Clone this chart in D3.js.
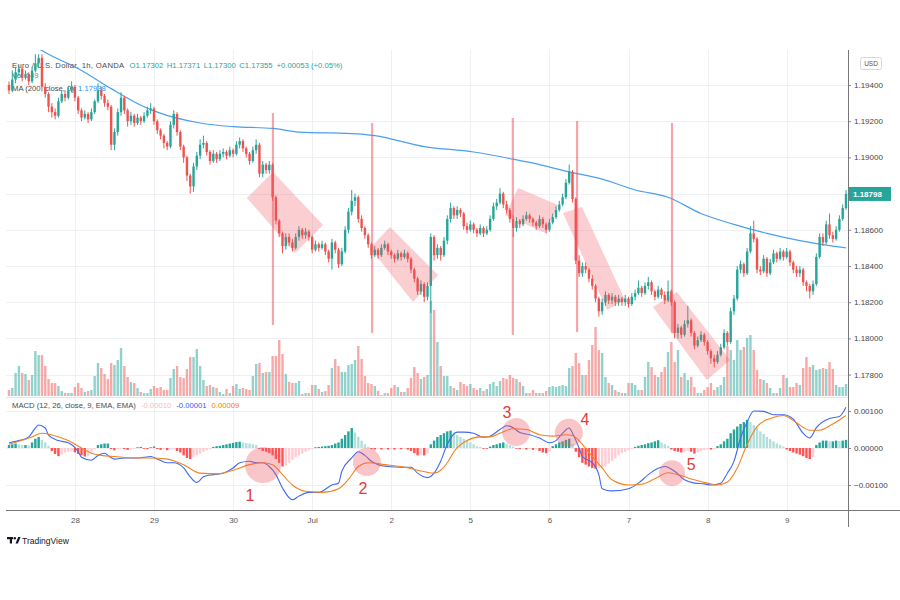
<!DOCTYPE html>
<html><head><meta charset="utf-8">
<script src="https://cdn.jsdelivr.net/npm/d3@7"></script>
<style>body{margin:0;background:#fff}svg{display:block;font-family:"Liberation Sans",Arial,sans-serif}</style>
</head><body><svg id="c" width="900" height="600"></svg>
<script>
// ---------- DATA ----------
const firstOpen = 1.1940;
const close = [
1.1937,1.1943,1.1947,1.1949,1.1944,1.1946,1.1942,1.1948,1.1952,1.1955,
1.1939,1.1935,1.1928,1.1925,1.1923,1.1931,1.1935,1.1933,1.1937,1.1939,
1.1933,1.1926,1.1922,1.1924,1.1921,1.1925,1.1931,1.1937,1.1934,1.1930,
1.1928,1.1907,1.1914,1.1925,1.1933,1.1926,1.1920,1.1923,1.1919,1.1922,
1.1920,1.1923,1.1926,1.1927,1.1920,1.1915,1.1912,1.1908,1.1906,1.1918,
1.1924,1.1914,1.1906,1.1900,1.1890,1.1884,1.1895,1.1901,1.1907,1.1908,
1.1903,1.1898,1.1902,1.1899,1.1902,1.1903,1.1901,1.1904,1.1902,1.1907,
1.1909,1.1905,1.1902,1.1898,1.1904,1.1907,1.1891,1.1896,1.1893,1.1896,
1.1878,1.1865,1.1858,1.1851,1.1856,1.1853,1.1850,1.1856,1.1860,1.1857,
1.1859,1.1856,1.1849,1.1852,1.1850,1.1852,1.1848,1.1844,1.1853,1.1849,
1.1841,1.1848,1.1860,1.1870,1.1876,1.1878,1.1866,1.1861,1.1857,1.1852,
1.1846,1.1849,1.1846,1.1850,1.1852,1.1848,1.1846,1.1844,1.1847,1.1845,
1.1847,1.1844,1.1838,1.1833,1.1826,1.1830,1.1823,1.1829,1.1856,1.1846,
1.1850,1.1846,1.1854,1.1866,1.1872,1.1868,1.1871,1.1869,1.1862,1.1860,
1.1863,1.1860,1.1858,1.1861,1.1858,1.1860,1.1866,1.1873,1.1875,1.1880,
1.1874,1.1871,1.1866,1.1861,1.1865,1.1863,1.1866,1.1868,1.1866,1.1864,
1.1862,1.1866,1.1863,1.1860,1.1864,1.1867,1.1871,1.1874,1.1878,1.1886,
1.1892,1.1877,1.1843,1.1836,1.1840,1.1838,1.1833,1.1829,1.1822,1.1815,
1.1820,1.1824,1.1821,1.1823,1.1820,1.1822,1.1820,1.1822,1.1819,1.1823,
1.1825,1.1828,1.1825,1.1829,1.1831,1.1826,1.1823,1.1827,1.1824,1.1821,
1.1826,1.1820,1.1803,1.1806,1.1802,1.1808,1.1810,1.1803,1.1796,1.1799,
1.1802,1.1798,1.1793,1.1789,1.1787,1.1791,1.1795,1.1803,1.1798,1.1815,
1.1822,1.1838,1.1841,1.1836,1.1848,1.1858,1.1855,1.1838,1.1837,1.1844,
1.1836,1.1842,1.1847,1.1844,1.1848,1.1845,1.1848,1.1842,1.1838,1.1836,
1.1838,1.1831,1.1829,1.1826,1.1830,1.1845,1.1856,1.1853,1.1863,1.1857,
1.1855,1.1860,1.1866,1.1872,1.18798];
const high = [
1.1942,1.1948,1.1950,1.1951,1.1950,1.1948,1.1947,1.1950,1.1957,1.1957,
1.1957,1.1941,1.1936,1.1930,1.1927,1.1933,1.1937,1.1937,1.1939,1.1942,
1.1940,1.1934,1.1927,1.1926,1.1925,1.1927,1.1932,1.1941,1.1939,1.1935,
1.1932,1.1929,1.1916,1.1927,1.1936,1.1934,1.1927,1.1925,1.1924,1.1924,
1.1923,1.1925,1.1928,1.1930,1.1928,1.1921,1.1916,1.1913,1.1909,1.1920,
1.1926,1.1925,1.1915,1.1907,1.1901,1.1891,1.1897,1.1903,1.1910,1.1912,
1.1909,1.1904,1.1904,1.1903,1.1904,1.1905,1.1904,1.1906,1.1905,1.1909,
1.1911,1.1910,1.1906,1.1903,1.1906,1.1910,1.1908,1.1898,1.1897,1.1898,
1.1897,1.1879,1.1866,1.1859,1.1858,1.1858,1.1855,1.1858,1.1862,1.1861,
1.1861,1.1860,1.1857,1.1854,1.1853,1.1854,1.1853,1.1849,1.1855,1.1854,
1.1850,1.1850,1.1862,1.1872,1.1882,1.1880,1.1879,1.1868,1.1862,1.1858,
1.1853,1.1851,1.1850,1.1852,1.1854,1.1853,1.1849,1.1847,1.1849,1.1848,
1.1849,1.1848,1.1845,1.1839,1.1834,1.1832,1.1831,1.1831,1.1858,1.1857,
1.1852,1.1851,1.1856,1.1868,1.1875,1.1873,1.1873,1.1872,1.1870,1.1864,
1.1865,1.1864,1.1861,1.1863,1.1862,1.1862,1.1868,1.1875,1.1877,1.1883,
1.1881,1.1876,1.1872,1.1868,1.1867,1.1866,1.1868,1.1870,1.1869,1.1867,
1.1865,1.1868,1.1867,1.1864,1.1866,1.1869,1.1873,1.1876,1.1880,1.1888,
1.1896,1.1893,1.1878,1.1846,1.1842,1.1842,1.1839,1.1835,1.1830,1.1823,
1.1822,1.1826,1.1825,1.1825,1.1824,1.1824,1.1823,1.1824,1.1823,1.1825,
1.1827,1.1832,1.1829,1.1831,1.1834,1.1832,1.1827,1.1829,1.1828,1.1826,
1.1832,1.1827,1.1821,1.1808,1.1807,1.1810,1.1818,1.1811,1.1804,1.1801,
1.1804,1.1803,1.1799,1.1794,1.1791,1.1793,1.1797,1.1805,1.1804,1.1817,
1.1824,1.1840,1.1843,1.1842,1.1850,1.1862,1.1865,1.1856,1.1840,1.1846,
1.1845,1.1844,1.1849,1.1848,1.1850,1.1849,1.1850,1.1849,1.1843,1.1840,
1.1840,1.1839,1.1832,1.1830,1.1832,1.1847,1.1858,1.1858,1.1865,1.1869,
1.1859,1.1862,1.1868,1.1874,1.1882];
const low = [
1.1935,1.1936,1.1941,1.1945,1.1942,1.1943,1.1940,1.1941,1.1947,1.1950,
1.1937,1.1933,1.1925,1.1922,1.1921,1.1922,1.1930,1.1931,1.1932,1.1936,
1.1931,1.1924,1.1920,1.1921,1.1919,1.1920,1.1924,1.1930,1.1932,1.1928,
1.1926,1.1904,1.1904,1.1912,1.1923,1.1924,1.1917,1.1918,1.1917,1.1918,
1.1918,1.1919,1.1922,1.1924,1.1918,1.1913,1.1910,1.1905,1.1904,1.1905,
1.1916,1.1912,1.1904,1.1897,1.1887,1.1880,1.1881,1.1893,1.1899,1.1905,
1.1901,1.1896,1.1897,1.1897,1.1898,1.1900,1.1899,1.1900,1.1900,1.1901,
1.1905,1.1903,1.1900,1.1896,1.1897,1.1902,1.1889,1.1889,1.1891,1.1891,
1.1876,1.1863,1.1856,1.1847,1.1849,1.1851,1.1848,1.1849,1.1854,1.1855,
1.1855,1.1854,1.1847,1.1848,1.1848,1.1849,1.1846,1.1842,1.1838,1.1847,
1.1839,1.1840,1.1847,1.1858,1.1868,1.1873,1.1864,1.1859,1.1855,1.1850,
1.1844,1.1845,1.1844,1.1845,1.1849,1.1846,1.1844,1.1842,1.1843,1.1843,
1.1844,1.1842,1.1836,1.1831,1.1824,1.1824,1.1820,1.1821,1.1814,1.1843,
1.1844,1.1843,1.1845,1.1852,1.1864,1.1866,1.1866,1.1867,1.1860,1.1858,
1.1859,1.1858,1.1856,1.1857,1.1856,1.1857,1.1859,1.1865,1.1871,1.1874,
1.1872,1.1869,1.1864,1.1856,1.1859,1.1861,1.1862,1.1865,1.1864,1.1862,
1.1860,1.1861,1.1861,1.1858,1.1859,1.1863,1.1866,1.1870,1.1873,1.1877,
1.1885,1.1875,1.1841,1.1834,1.1834,1.1836,1.1831,1.1827,1.1820,1.1812,
1.1813,1.1818,1.1819,1.1819,1.1818,1.1818,1.1818,1.1818,1.1817,1.1818,
1.1821,1.1824,1.1823,1.1824,1.1827,1.1824,1.1821,1.1822,1.1822,1.1819,
1.1820,1.1818,1.1800,1.1800,1.1800,1.1801,1.1806,1.1801,1.1794,1.1795,
1.1798,1.1796,1.1791,1.1786,1.1784,1.1786,1.1790,1.1794,1.1796,1.1797,
1.1813,1.1821,1.1836,1.1834,1.1835,1.1847,1.1853,1.1836,1.1835,1.1836,
1.1834,1.1835,1.1841,1.1842,1.1843,1.1843,1.1844,1.1840,1.1836,1.1834,
1.1834,1.1829,1.1826,1.1822,1.1824,1.1829,1.1844,1.1851,1.1852,1.1855,
1.1853,1.1854,1.1859,1.1865,1.1871];
const volume = [
6,8,23,30,23,22,16,21,45,41, 41,30,17,13,13,10,5,3,3,3,
9,13,8,4,5,6,20,33,28,22, 17,33,31,36,48,30,19,14,13,8,
4,3,3,7,10,8,9,6,6,18, 27,30,19,18,27,39,39,47,30,16,
10,11,9,8,4,2,7,3,10,12, 7,8,7,6,20,32,33,23,24,24,
40,40,56,42,22,14,13,13,15,2, 3,3,11,11,7,4,5,11,28,37,
30,24,24,31,32,36,50,37,20,13, 12,10,5,1,3,3,8,11,9,4,
4,8,18,29,23,17,19,21,95,86, 54,30,20,20,10,8,6,14,12,10,
12,8,6,8,5,7,12,14,10,15, 18,17,21,18,17,14,10,3,3,6,
3,3,3,5,9,10,9,10,11,10, 28,30,43,33,21,21,36,51,69,46,
43,19,13,11,6,4,3,3,13,13, 11,6,6,19,34,29,21,19,24,29,
44,54,34,46,19,23,16,19,9,3, 3,6,9,13,6,9,11,19,50,46,
36,56,46,49,58,61,46,26,17,16, 13,8,3,3,8,21,18,9,9,13,
11,28,39,29,31,26,27,28,27,34, 27,11,9,9,12];
const hist = [
0.00008,0.0001,0.00012,0.0001,0.00008,0.00008,0.00007,0.00015,0.00025,0.0003,
0.00022,0.00015,0.00006,-0.00008,-0.00016,-0.00022,-0.00018,-0.00013,-0.0001,-0.00009,
-0.00012,-0.00016,-0.0002,-0.00023,-0.00022,-0.00012,-0.00004,0.00008,0.0001,0.00012,
0.00012,-0.00003,-0.00006,-0.00004,-0.00002,-0.00003,-0.00005,-0.00004,-0.00002,0.00002,
0.00003,-0.00002,-0.00003,0.00002,0.00004,-0.00003,-0.00005,-0.00004,-0.00006,-0.00005,
-0.00004,-0.00008,-0.00012,-0.0002,-0.00027,-0.0003,-0.00025,-0.0002,-0.00015,-0.0001,
-0.00006,-0.00003,0.00003,0.00005,0.00006,0.00008,0.0001,0.00012,0.00014,0.00016,
0.00017,0.00015,0.00013,0.00012,0.0001,0.00008,-0.00003,-0.00008,-0.0001,-0.00014,
-0.0002,-0.0003,-0.0004,-0.0005,-0.00048,-0.0004,-0.00032,-0.00025,-0.0002,-0.00015,
-0.0001,-0.00006,-0.00003,0.00002,0.00003,0.00004,0.00005,0.00006,0.00008,0.00012,
0.00015,0.00025,0.00035,0.00045,0.00054,0.00042,0.0003,0.0002,0.0001,0.00003,
-0.00003,-0.00004,-0.00002,-0.00004,-0.00002,-0.00004,-0.00003,-0.00004,-0.00002,-0.00003,
-0.00002,-0.00004,-0.00008,-0.00014,-0.0002,-0.00018,-0.0002,-0.00015,0.0001,0.0002,
0.0003,0.00035,0.0004,0.00045,0.00047,0.00042,0.00035,0.0003,0.00025,0.0002,
0.00015,0.0001,0.00005,0.00003,-0.00002,-0.00002,0.00004,0.00008,0.0001,0.00013,
0.00015,0.00012,0.00008,0.00004,-0.00002,-0.00003,-0.00002,-0.00004,-0.00003,-0.00005,
-0.00004,-0.00008,-0.00012,-0.00014,-0.0001,0.00005,0.0001,0.00015,0.00018,0.00022,
0.00025,0.0001,-0.0001,-0.00025,-0.0004,-0.00045,-0.0005,-0.00054,-0.00056,-0.00055,
-0.00054,-0.0005,-0.00042,-0.00035,-0.00028,-0.0002,-0.00014,-0.0001,-0.00006,-0.00003,
0.00003,0.00006,0.00008,0.0001,0.00013,0.00015,0.00018,0.00021,0.00015,0.0001,
0.00005,-0.00004,-0.00008,-0.0001,-0.00012,-0.0001,-0.00008,-0.0001,-0.00015,-0.00012,
-0.00008,-0.00006,-0.00004,-0.00004,-0.00003,0.00005,0.0001,0.00018,0.00025,0.0004,
0.0005,0.00058,0.00065,0.0007,0.00076,0.0007,0.00062,0.00055,0.00045,0.00038,
0.0003,0.00024,0.00018,0.00012,0.00008,0.00004,-0.00004,-0.00008,-0.00012,-0.00015,
-0.00018,-0.00022,-0.00027,-0.0003,-0.00025,0.00008,0.00015,0.0002,0.0002,0.00018,
0.00018,0.0002,0.00019,0.0002,0.00022];
const maIdx = [9,12,22,31,41,45,58,68,80,88,106,111,126,141,153,161,170,180,190,200,210,220,230,240,250,254];
const maVal = [1.1960,1.1957,1.1948,1.1938,1.1928,1.1925,1.1919,1.1917,1.1916,1.1914,1.1913,1.1912,1.1906,1.1903,1.1899,1.1896,1.1892,1.1888,1.1882,1.1878,1.1869,1.1863,1.1858,1.1854,1.1851,1.1850];
const macdIdx = [0,3,6,8,9,11,12,15,18,21,22,25,27,29,30,32,35,38,41,43,45,48,50,53,55,57,59,62,65,68,70,73,75,77,79,81,83,86,88,91,94,98,100,101,104,106,108,110,112,115,119,122,124,127,129,131,133,136,138,141,144,146,149,151,153,155,158,161,164,166,168,170,171,173,174,177,179,180,183,188,191,194,197,199,202,205,208,211,213,216,218,220,222,224,226,229,232,235,238,241,243,245,249,252,254];
const macdVal = [0.00014,0.0002,0.0003,0.00054,0.00062,0.00054,0.00035,0.0002,0.00014,-0.0001,-0.00025,-0.00033,-0.0002,-0.00014,-0.0002,-0.0003,-0.00027,-0.00027,-0.00025,-0.00023,-0.0003,-0.0004,-0.0004,-0.00054,-0.00078,-0.00093,-0.00078,-0.00072,-0.00068,-0.00054,-0.0004,-0.00036,-0.0004,-0.0004,-0.0005,-0.00072,-0.00108,-0.0014,-0.0013,-0.0012,-0.0012,-0.001,-0.00095,-0.00063,-0.00027,-0.0001,-0.0002,-0.00036,-0.00045,-0.0005,-0.00052,-0.00052,-0.00068,-0.0008,-0.00068,-0.00036,0.0001,0.00043,0.00043,0.0004,0.00029,0.00032,0.0005,0.0006,0.00055,0.00042,0.00036,0.00027,0.00014,0.0002,0.0004,0.00054,0.0004,0,-0.00023,-0.0004,-0.00072,-0.0011,-0.00116,-0.0011,-0.00095,-0.00072,-0.00055,-0.0005,-0.00063,-0.00086,-0.00095,-0.00097,-0.001,-0.00095,-0.00068,-0.00036,0.00027,0.0007,0.001,0.00099,0.0009,0.0009,0.00078,0.0004,0.00027,0.00055,0.0008,0.00085,0.0011];
const sigIdx = [0,3,7,10,13,18,22,25,28,32,38,43,48,53,58,63,68,73,77,80,83,86,90,95,100,103,106,109,114,119,124,129,131,133,135,139,143,146,149,153,157,161,165,169,171,174,177,180,183,188,192,196,200,204,208,212,215,218,221,224,227,231,235,239,243,246,250,254];
const sigVal = [0.0001,0.00018,0.0003,0.0004,0.00035,0.0002,0,-0.00014,-0.0002,-0.00023,-0.00027,-0.00027,-0.0003,-0.00045,-0.00068,-0.0007,-0.0006,-0.00045,-0.0004,-0.00045,-0.00072,-0.001,-0.00117,-0.0012,-0.0011,-0.00085,-0.0005,-0.0004,-0.00045,-0.0005,-0.0006,-0.00068,-0.0006,-0.0004,-0.0001,0.0002,0.0003,0.0003,0.0004,0.00052,0.0005,0.00036,0.00032,0.00036,0.00034,0.0001,-0.00023,-0.00054,-0.00086,-0.001,-0.00098,-0.00083,-0.00067,-0.00075,-0.00086,-0.00095,-0.001,-0.00092,-0.00054,0.0001,0.00058,0.0008,0.00088,0.00068,0.00048,0.00048,0.00065,0.00088];
const priceTicks = [1.178,1.180,1.182,1.184,1.186,1.188,1.190,1.192,1.194];
const macdTicks = [-0.001,0,0.001];
const dayIdx = [20,44,68,92,116,140,164,188,212,236];
const dayLabels = ["28","29","30","Jul","2","5","6","7","8","9"];
const lastPrice = 1.18798;
// annotations (bar index, price / macd value)
const channels = [
 [[72.2,1.18776],[80.1,1.18919],[95.3,1.18627],[86.8,1.18472]],
 [[109.6,1.18499],[115.6,1.18615],[130.2,1.18350],[122.6,1.18201]],
 [[150.5,1.18682],[154.5,1.18831],[166.6,1.18737],[162.7,1.18582]],
 [[168.1,1.18693],[173.9,1.18726],[186.9,1.18212],[181.5,1.18157]],
 [[195.4,1.18173],[202.7,1.18256],[218.8,1.17881],[211.8,1.17770]]];
const vlineIdx = [80.1,110.2,152.9,172.4,201.2];
const vlineTop = [1.19245,1.1919,1.19218,1.19201,1.1919];
const vlineBot = [1.18074,1.1803,1.18019,1.18035,1.1803];
const circIdx = [77.1,108.6,153.9,169.9,201.2];
const circVal = [-0.00046,-0.00038,0.00043,0.00041,-0.00068];
const markLabels = ["1","2","3","4","5"];
const markIdx = [73.1,107.4,151.1,174.8,207.0];
const markVal = [-0.00127,-0.00108,0.00097,0.00076,-0.00043];

// ---------- DRAW ----------
const svg = d3.select('#c');
const L = 6, R = 848;
const x = d3.scaleLinear().domain([0,254]).range([9,846]);
const yP = d3.scaleLinear().domain([1.178,1.194]).range([374.6,85]);
const yV = d3.scaleLinear().domain([0,100]).range([396,296]);
const yM = d3.scaleLinear().domain([-0.001,0.001]).range([485,411]);
const UP = '#26a69a', DN = '#ef5350';
const open = close.map((c,i)=> i===0 ? firstOpen : close[i-1]);

const defs = svg.append('defs');
defs.append('clipPath').attr('id','cp').append('rect').attr('x',L).attr('y',50).attr('width',R-L).attr('height',347);
defs.append('clipPath').attr('id','cm').append('rect').attr('x',L).attr('y',398).attr('width',R-L).attr('height',112);

// grid
const g = svg.append('g').attr('stroke','#eef0f4').attr('stroke-width',1);
g.selectAll('.gh').data(priceTicks).join('line').attr('x1',L).attr('x2',R).attr('y1',d=>Math.round(yP(d))+0.5).attr('y2',d=>Math.round(yP(d))+0.5);
g.selectAll('.gm').data(macdTicks).join('line').attr('x1',L).attr('x2',R).attr('y1',d=>Math.round(yM(d))+0.5).attr('y2',d=>Math.round(yM(d))+0.5);
g.selectAll('.gv').data(dayIdx).join('line').attr('x1',d=>Math.round(x(d))+0.5).attr('x2',d=>Math.round(x(d))+0.5).attr('y1',50).attr('y2',510);

// header legend
const fs = 7.7;
const t1 = svg.append('text').attr('x',12).attr('y',68).attr('font-size',fs).attr('fill','#4a4a4a');
t1.append('tspan').attr('letter-spacing',0.3).text('Euro / U.S. Dollar, 1h, OANDA');
[['O','1.17302'],['H','1.17371'],['L','1.17300'],['C','1.17355']].forEach((p,k)=>{
  t1.append('tspan').attr('dx',k===0?5:3.5).attr('fill',UP).text(p[0]+p[1]);
});
t1.append('tspan').attr('dx',4).attr('fill',UP).text('+0.00053 (+0.05%)');
const t2 = svg.append('text').attr('x',12).attr('y',78).attr('font-size',fs).attr('fill','#4a4a4a');
t2.append('tspan').text('Vol');
t2.append('tspan').attr('dx',3).attr('fill',UP).text('149');
const t3 = svg.append('text').attr('x',12).attr('y',91).attr('font-size',fs).attr('fill','#4a4a4a');
t3.append('tspan').text('MA (200, close, 0)');
t3.append('tspan').attr('dx',4).attr('fill','#2196f3').text('1.17938');

// price pane
const pp = svg.append('g').attr('clip-path','url(#cp)');
pp.selectAll('.vol').data(volume).join('rect')
  .attr('x',(d,i)=>x(i)-1.2).attr('width',2.4)
  .attr('y',d=>yV(d)).attr('height',d=>yV(0)-yV(d))
  .attr('fill',(d,i)=> close[i]>=open[i] ? 'rgba(38,166,154,0.5)' : 'rgba(239,83,80,0.5)');

const ma = d3.line().x(d=>x(d[0])).y(d=>yP(d[1])).curve(d3.curveMonotoneX);
pp.append('path').attr('d',ma(maIdx.map((d,i)=>[d,maVal[i]]))).attr('fill','none').attr('stroke','#4a9ff0').attr('stroke-width',1.2);

const cg = pp.append('g');
close.forEach((c,i)=>{
  const col = c>=open[i] ? UP : DN;
  cg.append('line').attr('x1',x(i)).attr('x2',x(i)).attr('y1',yP(high[i])).attr('y2',yP(low[i])).attr('stroke',col).attr('stroke-width',1);
  const y0 = yP(Math.max(open[i],c)), y1 = yP(Math.min(open[i],c));
  cg.append('rect').attr('x',x(i)-1.2).attr('width',2.4).attr('y',y0).attr('height',Math.max(1,y1-y0)).attr('fill',col);
});

pp.selectAll('.ch').data(channels).join('polygon')
  .attr('points',d=>d.map(p=>x(p[0])+','+yP(p[1])).join(' '))
  .attr('fill','rgba(242,80,90,0.28)');
pp.selectAll('.vl').data(vlineIdx).join('line')
  .attr('x1',d=>x(d)).attr('x2',d=>x(d))
  .attr('y1',(d,i)=>yP(vlineTop[i])).attr('y2',(d,i)=>yP(vlineBot[i]))
  .attr('stroke','rgba(240,90,100,0.55)').attr('stroke-width',2.2);

// separator
svg.append('line').attr('x1',L).attr('x2',R).attr('y1',397.5).attr('y2',397.5).attr('stroke','#e3e5ea');

// MACD pane
const mp = svg.append('g').attr('clip-path','url(#cm)');
mp.selectAll('.h').data(hist).join('rect')
  .attr('x',(d,i)=>x(i)-1.2).attr('width',2.4)
  .attr('y',d=>Math.min(yM(d),yM(0))).attr('height',d=>Math.max(0.8,Math.abs(yM(d)-yM(0))))
  .attr('fill',(d,i)=>{
    const p = i>0 ? hist[i-1] : d;
    if (d>=0) return p<=d ? '#26a69a' : '#b2dfdb';
    return p<d ? '#ffcdd2' : '#ff5252';
  });
const ml = d3.line().x(d=>x(d[0])).y(d=>yM(d[1])).curve(d3.curveMonotoneX);
mp.append('path').attr('d',ml(macdIdx.map((d,i)=>[d,macdVal[i]]))).attr('fill','none').attr('stroke','#3f6af2').attr('stroke-width',1.1);
mp.append('path').attr('d',ml(sigIdx.map((d,i)=>[d,sigVal[i]]))).attr('fill','none').attr('stroke','#f5821f').attr('stroke-width',1.1);
const circR = [18,14,14,14,13];
mp.selectAll('.cc').data(circIdx).join('circle')
  .attr('cx',d=>x(d)).attr('cy',(d,i)=>yM(circVal[i])).attr('r',(d,i)=>circR[i])
  .attr('fill','rgba(240,90,100,0.35)');
svg.selectAll('.ml').data(markLabels).join('text')
  .attr('x',(d,i)=>x(markIdx[i])).attr('y',(d,i)=>yM(markVal[i])).attr('dy','0.35em')
  .attr('text-anchor','middle').attr('font-size',16).attr('fill','#e23b3b').text(d=>d);

const t4 = svg.append('text').attr('x',12).attr('y',408).attr('font-size',fs).attr('fill','#4a4a4a');
t4.append('tspan').text('MACD (12, 26, close, 9, EMA, EMA)');
t4.append('tspan').attr('dx',5).attr('fill','#f7b7c4').text('-0.00010');
t4.append('tspan').attr('dx',5).attr('fill','#2f5bf0').text('-0.00001');
t4.append('tspan').attr('dx',5).attr('fill','#f57c00').text('0.00009');

// axes
const axP = svg.append('g').attr('transform',`translate(${R},0)`)
  .call(d3.axisRight(yP).tickValues(priceTicks).tickFormat(d3.format('.5f')).tickSize(3));
const axM = svg.append('g').attr('transform',`translate(${R},0)`)
  .call(d3.axisRight(yM).tickValues(macdTicks).tickFormat(d3.format('.5f')).tickSize(3));
[axP,axM].forEach(a=>{
  a.select('.domain').remove();
  a.selectAll('line').attr('stroke','#888');
  a.selectAll('text').attr('font-size',8).attr('fill','#444').attr('x',6).attr('font-family','"Liberation Sans",Arial,sans-serif');
});
const axT = svg.append('g').attr('transform','translate(0,510)')
  .call(d3.axisBottom(x).tickValues(dayIdx).tickFormat((d,i)=>dayLabels[i]).tickSize(0));
axT.select('.domain').remove();
axT.selectAll('text').attr('font-size',8).attr('fill','#555').attr('dy','1.25em').attr('font-family','"Liberation Sans",Arial,sans-serif');

svg.append('line').attr('x1',R+0.5).attr('x2',R+0.5).attr('y1',50).attr('y2',527).attr('stroke','#777');
svg.append('line').attr('x1',L).attr('x2',900).attr('y1',510.5).attr('y2',510.5).attr('stroke','#777');

// last price badge
const lp = yP(lastPrice);
svg.append('rect').attr('x',R+1).attr('y',lp-7).attr('width',42).attr('height',14).attr('fill',UP);
svg.append('text').attr('x',R+5).attr('y',lp+3).attr('font-size',8).attr('font-weight','bold').attr('fill','#fff').text(d3.format('.5f')(lastPrice));

// USD box
svg.append('rect').attr('x',860.5).attr('y',57.5).attr('width',21).attr('height',12).attr('rx',2).attr('fill','#fff').attr('stroke','#d6d8de');
svg.append('text').attr('x',871).attr('y',66).attr('text-anchor','middle').attr('font-size',6.5).attr('fill','#555').text('USD');

// TradingView logo
const lg = svg.append('g').attr('fill','#131722');
lg.append('rect').attr('x',7).attr('y',537).attr('width',6).attr('height',2.2);
lg.append('rect').attr('x',9.8).attr('y',537).attr('width',2.2).attr('height',6.5);
lg.append('circle').attr('cx',14.8).attr('cy',538.2).attr('r',1.2);
lg.append('path').attr('d','M15.5,543.5 L18.2,537 L20.6,537 L17.9,543.5 Z');
svg.append('text').attr('x',22).attr('y',543.5).attr('font-size',8.5).attr('fill','#131722').text('TradingView');
</script></body></html>
